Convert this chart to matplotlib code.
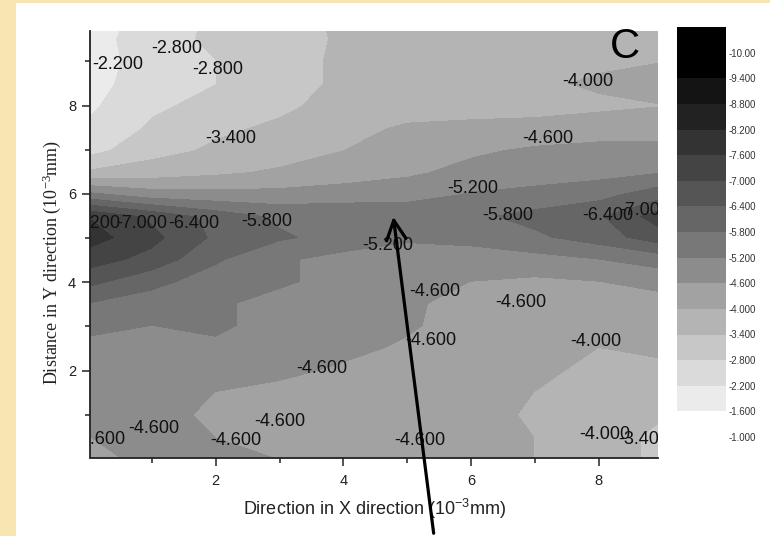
import matplotlib
matplotlib.use("Agg")
import matplotlib.pyplot as plt
import numpy as np
from matplotlib.patches import Rectangle, FancyArrowPatch, ArrowStyle

plt.rcParams['font.family'] = ['Liberation Sans', 'DejaVu Sans']
plt.rcParams['mathtext.default'] = 'regular'

# ---- data ----
x_vals = [0, 1, 2, 3, 4, 5, 6, 7, 8, 9]
y_vals = [0.0, 0.5, 1.0, 1.5, 2.0, 2.5, 3.0, 3.5, 4.0, 4.5, 5.0,
          5.5, 6.0, 6.5, 7.0, 7.5, 8.0, 8.5, 9.0, 9.5, 10.0]
z_rows = [
    [-4.5, -4.7, -4.7, -4.6, -4.5, -4.6, -4.3, -4.0, -3.8, -3.2],
    [-4.6, -4.7, -4.6, -4.5, -4.4, -4.5, -4.3, -4.0, -3.8, -3.2],
    [-4.8, -4.8, -4.5, -4.4, -4.3, -4.4, -4.3, -3.9, -3.7, -3.5],
    [-4.9, -4.8, -4.6, -4.4, -4.3, -4.4, -4.3, -4.0, -3.8, -3.7],
    [-5.0, -4.9, -4.9, -4.8, -4.5, -4.4, -4.3, -4.1, -3.9, -3.9],
    [-5.1, -5.0, -5.1, -4.9, -4.8, -4.5, -4.3, -4.2, -4.0, -4.1],
    [-5.3, -5.2, -5.3, -5.0, -4.9, -4.7, -4.3, -4.2, -4.1, -4.2],
    [-5.8, -5.5, -5.3, -5.0, -4.9, -4.7, -4.4, -4.5, -4.3, -4.4],
    [-6.6, -6.0, -5.5, -5.3, -5.0, -4.7, -4.6, -4.5, -4.6, -4.8],
    [-7.3, -6.8, -5.9, -5.3, -5.0, -4.9, -4.9, -5.0, -5.2, -5.5],
    [-7.9, -7.2, -6.3, -5.9, -5.6, -5.3, -5.4, -5.7, -6.1, -6.8],
    [-7.6, -6.9, -6.2, -5.7, -5.7, -5.6, -5.7, -6.0, -6.35, -7.4],
    [-5.4, -4.9, -4.8, -4.8, -4.9, -5.0, -5.25, -5.4, -5.6, -6.2],
    [-3.5, -3.7, -3.9, -4.1, -4.3, -4.5, -4.8, -4.9, -5.0, -5.2],
    [-2.6, -3.2, -3.5, -3.7, -4.0, -4.3, -4.5, -4.7, -4.8, -4.8],
    [-2.3, -2.9, -3.3, -3.5, -3.8, -4.1, -4.2, -4.2, -4.3, -4.3],
    [-2.1, -2.7, -3.0, -3.3, -3.6, -3.7, -3.7, -3.8, -3.9, -4.0],
    [-2.0, -2.5, -2.8, -3.2, -3.5, -3.6, -3.7, -3.9, -4.1, -4.3],
    [-2.0, -2.4, -2.8, -3.2, -3.5, -3.6, -3.7, -3.8, -3.9, -4.0],
    [-1.9, -2.6, -2.9, -3.1, -3.5, -3.6, -3.7, -3.7, -3.8, -3.9],
    [-1.8, -2.5, -2.9, -3.2, -3.5, -3.6, -3.7, -3.7, -3.8, -3.9],
]
levels = [-10.6, -10.0, -9.4, -8.8, -8.2, -7.6, -7.0, -6.4, -5.8, -5.2,
          -4.6, -4.0, -3.4, -2.8, -2.2, -1.6, -1.0]
level_colors = ['#000000', '#000000', '#141414', '#222222', '#333333',
                '#444444', '#555555', '#666666', '#787878', '#8c8c8c',
                '#a2a2a2', '#b4b4b4', '#c7c7c7', '#dadada', '#ebebeb',
                '#ffffff']
cbar_labels = ['-10.00', '-9.400', '-8.800', '-8.200', '-7.600', '-7.000',
               '-6.400', '-5.800', '-5.200', '-4.600', '-4.000', '-3.400',
               '-2.800', '-2.200', '-1.600', '-1.000']
label_texts = ['-2.200', '-2.800', '-2.800', '-3.400', '-4.000', '-4.600',
               '-5.200', '-5.800', '-6.400', '-7.000', '-8.200', '-7.000',
               '-6.400', '-5.800', '-5.200', '-4.600', '-4.600', '-4.600',
               '-4.000', '-4.600', '-4.600', '-4.600', '-4.600', '-4.600',
               '-4.600', '-4.000', '-3.400']
label_x = [0.47, 1.39, 2.03, 2.24, 7.83, 7.21, 6.03, 6.58, 8.15, 8.72,
           0.10, 0.84, 1.66, 2.80, 4.70, 5.43, 6.78, 5.37, 7.96, 3.66,
           3.00, 1.03, 0.19, 2.32, 5.20, 8.10, 8.71]
label_y = [8.94, 9.30, 8.82, 7.26, 8.55, 7.26, 6.13, 5.52, 5.52, 5.63,
           5.32, 5.32, 5.34, 5.38, 4.84, 3.78, 3.55, 2.69, 2.65, 2.04,
           0.84, 0.68, 0.43, 0.41, 0.41, 0.54, 0.43]
x_ticks = [2, 4, 6, 8]
y_ticks = [2, 4, 6, 8]

# ---- figure ----
W, H = 770, 536
fig = plt.figure(figsize=(W / 100, H / 100), dpi=100)
fig.patch.set_facecolor('#F7E5B2')
fig.add_artist(Rectangle((16 / W, 0), 1 - 16 / W, 1 - 3 / H,
                         transform=fig.transFigure, facecolor='white',
                         edgecolor='none', zorder=0))

ax = fig.add_axes([90 / W, 1 - 457.5 / H, 568 / W, 427 / H])
ax.set_zorder(2)
Z = np.array(z_rows)
cs = ax.contourf(x_vals, y_vals, Z, levels=levels, colors=level_colors)
ax.set_xlim(0.03, 8.93)
ax.set_ylim(0.03, 9.7)

for s in ['top', 'right']:
    ax.spines[s].set_visible(False)
for s in ['left', 'bottom']:
    ax.spines[s].set_linewidth(1.3)
    ax.spines[s].set_color('#222222')
ax.set_xticks(x_ticks)
ax.set_yticks(y_ticks)
ax.set_xticks([1, 3, 5, 7], minor=True)
ax.set_yticks([1, 3, 5, 7, 9], minor=True)
ax.tick_params(which='major', direction='out', length=6, width=1.1,
               labelsize=10.5, colors='#222222')
ax.tick_params(which='minor', direction='out', length=3.5, width=1.1,
               colors='#222222')
ax.tick_params(axis='x', pad=6)
ax.tick_params(axis='y', pad=4)

for t, lx, ly in zip(label_texts, label_x, label_y):
    ax.text(lx, ly, t, ha='center', va='center', fontsize=13,
            color='#111111', clip_on=True)

# colorbar
cax = fig.add_axes([677 / W, 1 - 437 / H, 49 / W, 410 / H])
cb = fig.colorbar(cs, cax=cax)
cb.outline.set_visible(False)
cax.invert_yaxis()
cb.set_ticks(levels[1:])
cb.set_ticklabels(cbar_labels)
cax.tick_params(length=0, labelsize=7, pad=2, colors='#333333')

# labels
fig.text(375 / W, 1 - 515 / H, 'Direction in X direction (10$^{-3}$mm)',
         ha='center', va='baseline', fontsize=13, color='#222222')
fig.text(52 / W, 1 - 262 / H, 'Distance in Y direction (10$^{-3}$mm)',
         ha='center', va='center', rotation=90, fontsize=13,
         family=['Liberation Serif', 'DejaVu Serif'], color='#222222')
fig.text(625 / W, 1 - 47 / H, 'C', ha='center', va='center', fontsize=30,
         color='black', zorder=5)

arrow = FancyArrowPatch((434 / W, 0.0), (393 / W, 1 - 214 / H),
                        transform=fig.transFigure,
                        arrowstyle=ArrowStyle('->', head_length=0.7, head_width=0.35),
                        mutation_scale=20, lw=2.3, color='black', zorder=10)
fig.add_artist(arrow)

fig.savefig('out.png', dpi=100)
